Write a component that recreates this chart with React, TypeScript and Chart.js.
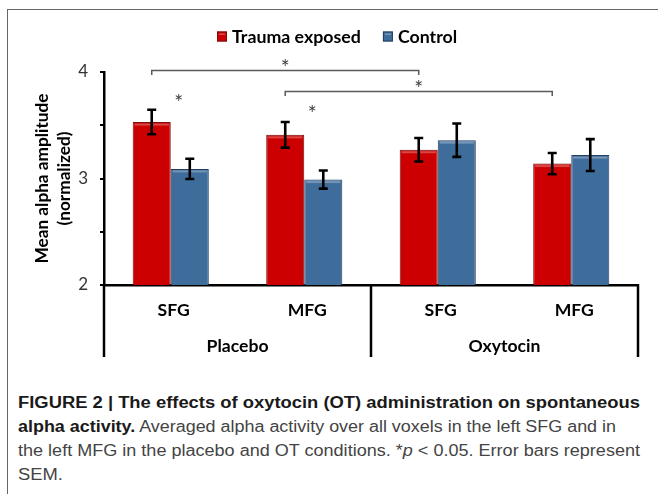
import React, { useEffect, useLayoutEffect, useRef } from "react";
import { Chart, registerables } from "chart.js";

Chart.register(...registerables);

const categories = ["SFG", "MFG", "SFG", "MFG"];
const groups = ["Placebo", "Oxytocin"];
const seriesNames = ["Trauma exposed", "Control"];
const traumaValues = [3.53, 3.41, 3.27, 3.14];
const traumaErrors = [0.115, 0.12, 0.11, 0.10];
const controlValues = [3.09, 2.99, 3.36, 3.22];
const controlErrors = [0.095, 0.085, 0.157, 0.15];
const yMin = 2;
const yMax = 4;
const yStep = 0.5;
const yTitle = ["Mean alpha amplitude", "(normalized)"];

const RED = "#CC0000";
const RED_EDGE = "#7A0E0E";
const BLUE = "#3F6D9B";
const BLUE_EDGE = "#243F5E";
const FONT = "Lato, 'Open Sans', sans-serif";

function fitSize(ctx: CanvasRenderingContext2D, text: string, target: number, weight: string) {
  ctx.font = `${weight} 20px ${FONT}`;
  const w = ctx.measureText(text).width;
  return (20 * target) / w;
}

function drawStar(ctx: CanvasRenderingContext2D, x: number, cy: number) {
  ctx.save();
  ctx.fillStyle = "#404040";
  ctx.font = `21px ${FONT}`;
  ctx.textAlign = "center";
  ctx.textBaseline = "alphabetic";
  const m = ctx.measureText("*");
  const base = cy + (m.actualBoundingBoxAscent - m.actualBoundingBoxDescent) / 2;
  ctx.fillText("*", x, base);
  ctx.restore();
}

const overlay = {
  id: "overlay",
  afterDatasetsDraw(chart: any) {
    const ctx = chart.ctx as CanvasRenderingContext2D;
    const ys = chart.scales.y;
    const xs = chart.scales.x;
    const sets: [number, number[], number[]][] = [
      [0, traumaValues, traumaErrors],
      [1, controlValues, controlErrors],
    ];
    ctx.save();
    // bevel highlight
    sets.forEach(([di]) => {
      const meta = chart.getDatasetMeta(di);
      meta.data.forEach((bar: any) => {
        const w = bar.width;
        ctx.fillStyle = "rgba(255,255,255,0.28)";
        ctx.fillRect(bar.x - w / 2 + 2, bar.y + 1.5, w - 4, 2);
      });
    });
    // error bars
    ctx.strokeStyle = "#000";
    ctx.lineWidth = 2.6;
    sets.forEach(([di, vals, errs]) => {
      const meta = chart.getDatasetMeta(di);
      meta.data.forEach((bar: any, i: number) => {
        const cx = bar.x;
        const t = ys.getPixelForValue(vals[i] + errs[i]);
        const b = ys.getPixelForValue(vals[i] - errs[i]);
        ctx.beginPath();
        ctx.moveTo(cx, t);
        ctx.lineTo(cx, b);
        ctx.moveTo(cx - 4.5, t);
        ctx.lineTo(cx + 4.5, t);
        ctx.moveTo(cx - 4.5, b);
        ctx.lineTo(cx + 4.5, b);
        ctx.stroke();
      });
    });
    // significance brackets
    const red = chart.getDatasetMeta(0).data;
    const bracket = (i1: number, i2: number, yv: number) => {
      const x1 = red[i1].x;
      const x2 = red[i2].x;
      const py = Math.round(ys.getPixelForValue(yv)) + 0.5;
      ctx.strokeStyle = "#5a5a5a";
      ctx.lineWidth = 1.5;
      ctx.beginPath();
      ctx.moveTo(x1, py + 4.5);
      ctx.lineTo(x1, py);
      ctx.lineTo(x2, py);
      ctx.lineTo(x2, py + 4.5);
      ctx.stroke();
      drawStar(ctx, (x1 + x2) / 2, py - 8.5);
    };
    bracket(0, 2, 4.02);
    bracket(1, 3, 3.825);
    drawStar(ctx, xs.getPixelForValue(0) + 8, ys.getPixelForValue(3.76));
    drawStar(ctx, xs.getPixelForValue(1) + 8, ys.getPixelForValue(3.655));
    ctx.restore();
  },
  afterDraw(chart: any) {
    const ctx = chart.ctx as CanvasRenderingContext2D;
    const area = chart.chartArea;
    const xs = chart.scales.x;
    ctx.save();
    // separators
    ctx.strokeStyle = "#000";
    ctx.lineWidth = 2.5;
    const sepBottom = area.bottom + 72;
    const mid = (xs.getPixelForValue(1) + xs.getPixelForValue(2)) / 2;
    [area.left, mid, area.right].forEach((sx) => {
      ctx.beginPath();
      ctx.moveTo(sx, area.bottom - 1);
      ctx.lineTo(sx, sepBottom);
      ctx.stroke();
    });
    // category labels
    const labelSize = fitSize(ctx, groups[0], 62, "bold");
    ctx.fillStyle = "#000";
    ctx.font = `bold ${labelSize}px ${FONT}`;
    ctx.textAlign = "center";
    ctx.textBaseline = "middle";
    categories.forEach((c, i) => {
      ctx.fillText(c, xs.getPixelForValue(i) + 3, area.bottom + 25);
    });
    groups.forEach((g, gi) => {
      const cx = (xs.getPixelForValue(gi * 2) + xs.getPixelForValue(gi * 2 + 1)) / 2;
      ctx.fillText(g, cx, area.bottom + 61);
    });
    // y title
    const titleSize = fitSize(ctx, yTitle[0], 170, "bold");
    ctx.save();
    ctx.translate(42, (area.top + area.bottom) / 2);
    ctx.rotate(-Math.PI / 2);
    ctx.font = `bold ${titleSize}px ${FONT}`;
    ctx.fillStyle = "#000";
    ctx.fillText(yTitle[0], 0, 0);
    ctx.fillText(yTitle[1], 0, 22);
    ctx.restore();
    // legend
    const legendSize = fitSize(ctx, seriesNames[0], 129, "bold");
    ctx.font = `bold ${legendSize}px ${FONT}`;
    ctx.textAlign = "left";
    ctx.textBaseline = "middle";
    const ly = 36.5;
    const items: [string, string, string][] = [
      [seriesNames[0], RED, RED_EDGE],
      [seriesNames[1], BLUE, BLUE_EDGE],
    ];
    const gap = 22;
    const box = 10;
    const widths = items.map(([t]) => box + 5 + ctx.measureText(t).width);
    let lx = 217;
    items.forEach(([t, c, e], i) => {
      ctx.fillStyle = c;
      ctx.fillRect(lx, ly - box / 2, box, box);
      ctx.strokeStyle = e;
      ctx.lineWidth = 1;
      ctx.strokeRect(lx + 0.5, ly - box / 2 + 0.5, box - 1, box - 1);
      ctx.fillStyle = "rgba(255,255,255,0.3)";
      ctx.fillRect(lx + 2, ly - box / 2 + 2, box - 4, 1.5);
      ctx.fillStyle = "#000";
      ctx.fillText(t, lx + box + 5, ly + 1);
      lx += widths[i] + gap;
    });
    ctx.restore();
  },
};

export default function App() {
  const ref = useRef<HTMLCanvasElement | null>(null);
  const capRef = useRef<HTMLDivElement | null>(null);

  useLayoutEffect(() => {
    const el = capRef.current;
    if (!el) return;
    const lines = Array.from(el.children) as HTMLElement[];
    const targets = [622, 598, 622];
    const base = 622 / lines[0].getBoundingClientRect().width;
    lines.forEach((l, i) => {
      const w = l.getBoundingClientRect().width;
      const s = i < targets.length ? targets[i] / w : base;
      l.style.transform = `scaleX(${s})`;
    });
  }, []);

  useEffect(() => {
    if (!ref.current) return;
    const chart = new Chart(ref.current, {
      type: "bar",
      data: {
        labels: categories,
        datasets: [
          {
            label: seriesNames[0],
            data: traumaValues,
            backgroundColor: RED,
            borderColor: RED_EDGE,
            borderWidth: 1,
            borderSkipped: "bottom",
          },
          {
            label: seriesNames[1],
            data: controlValues,
            backgroundColor: BLUE,
            borderColor: BLUE_EDGE,
            borderWidth: 1,
            borderSkipped: "bottom",
          },
        ],
      },
      options: {
        responsive: false,
        animation: false,
        layout: { padding: { left: 0, right: 20, top: 72, bottom: 0 } },
        datasets: { bar: { categoryPercentage: 0.57, barPercentage: 1 } },
        plugins: { legend: { display: false }, tooltip: { enabled: false } },
        scales: {
          x: {
            grid: { display: false },
            border: { display: true, color: "#000", width: 2.5 },
            ticks: { display: false },
            afterFit: (s: any) => {
              s.height = 85;
            },
          },
          y: {
            min: yMin,
            max: yMax,
            ticks: {
              stepSize: yStep,
              callback: (v: any) => (Number.isInteger(v) ? String(v) : ""),
              font: { family: FONT, size: 17 },
              color: "#333",
              padding: 12,
            },
            grid: { drawOnChartArea: false, drawTicks: true, tickLength: 4, color: "#000", lineWidth: 2 },
            border: { display: true, color: "#000", width: 2.5 },
            afterFit: (s: any) => {
              s.width = 104;
            },
          },
        },
      },
      plugins: [overlay],
    } as any);
    return () => chart.destroy();
  }, []);

  const lineStyle: React.CSSProperties = { transformOrigin: "0 0", width: "max-content", height: 24 };

  return (
    <div style={{ position: "absolute", left: 0, top: 0, width: 658, height: 494, overflow: "hidden", background: "#fff" }}>
      <div
        style={{
          position: "absolute",
          left: 7,
          top: 9,
          width: 700,
          height: 600,
          border: "1px solid #666",
          boxSizing: "border-box",
        }}
      />
      <canvas ref={ref} width={658} height={370} style={{ position: "absolute", left: 0, top: 0 }} />
      <div
        ref={capRef}
        style={{
          position: "absolute",
          left: 18,
          top: 391,
          whiteSpace: "nowrap",
          fontFamily: "'Liberation Sans', Arial, sans-serif",
          fontSize: 16,
          lineHeight: "24px",
          color: "#444",
        }}
      >
        <div style={lineStyle}>
          <b style={{ color: "#1a1a1a" }}>FIGURE 2 | The effects of oxytocin (OT) administration on spontaneous</b>
        </div>
        <div style={lineStyle}>
          <b style={{ color: "#1a1a1a" }}>alpha activity.</b> Averaged alpha activity over all voxels in the left SFG and in
        </div>
        <div style={lineStyle}>
          the left MFG in the placebo and OT conditions. *<i>p</i> &lt; 0.05. Error bars represent
        </div>
        <div style={lineStyle}>SEM.</div>
      </div>
    </div>
  );
}
